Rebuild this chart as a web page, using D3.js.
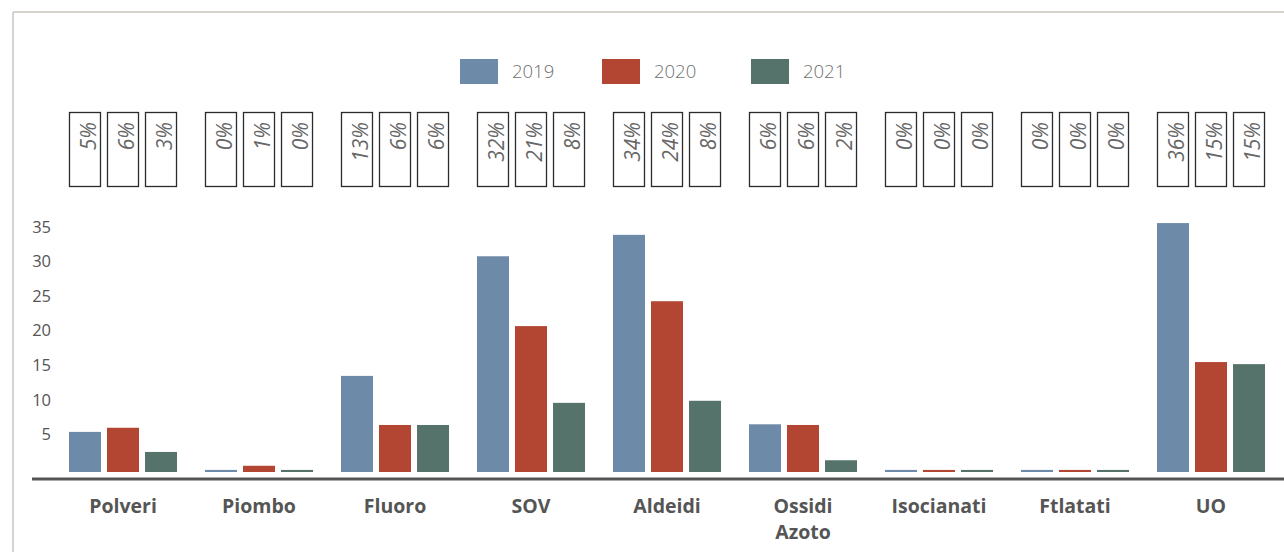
<!DOCTYPE html>
<html>
<head>
<meta charset="utf-8">
<script src="https://cdn.jsdelivr.net/npm/d3@7"></script>
<style>
  body { margin: 0; background: #fff; }
  svg { display: block; }
</style>
</head>
<body>
<div class="chart"></div>
<script>
// categories and series
var categories = ["Polveri", "Piombo", "Fluoro", "SOV", "Aldeidi", "Ossidi Azoto", "Isocianati", "Ftlatati", "UO"];
var years = ["2019", "2020", "2021"];
var values2019 = [5.8, 0.3, 13.9, 31.2, 34.3, 6.9, 0.3, 0.3, 36.0];
var values2020 = [6.4, 0.9, 6.8, 21.1, 24.7, 6.8, 0.3, 0.3, 15.9];
var values2021 = [2.9, 0.3, 6.8, 10.0, 10.3, 1.7, 0.3, 0.3, 15.6];
// percent labels in the boxes above the bars
var pct2019 = ["5%", "0%", "13%", "32%", "34%", "6%", "0%", "0%", "36%"];
var pct2020 = ["6%", "1%", "6%", "21%", "24%", "6%", "0%", "0%", "15%"];
var pct2021 = ["3%", "0%", "6%", "8%", "8%", "2%", "0%", "0%", "15%"];
var yTicks = [5, 10, 15, 20, 25, 30, 35];

var colors = { "2019": "#6d8aa8", "2020": "#b34632", "2021": "#55726b" };
var series = { "2019": values2019, "2020": values2020, "2021": values2021 };
var pcts = { "2019": pct2019, "2020": pct2020, "2021": pct2021 };

var width = 1284, height = 552;

var svg = d3.select(".chart").append("svg")
    .attr("width", width)
    .attr("height", height);

// frame lines (top and left)
svg.append("line")
    .attr("x1", 13).attr("x2", width).attr("y1", 12).attr("y2", 12)
    .style("stroke", "#c9c3bc").style("stroke-width", 1.5);
svg.append("line")
    .attr("x1", 13).attr("x2", 13).attr("y1", 12).attr("y2", height)
    .style("stroke", "#c9c3bc").style("stroke-width", 1.5);

// scales
var x0 = d3.scaleBand()
    .domain(categories)
    .range([55, 55 + 136 * categories.length]);

var x1 = d3.scaleBand()
    .domain(years)
    .range([0, x0.bandwidth()])
    .paddingInner(0.158)
    .paddingOuter(0.368);

var y = d3.scaleLinear()
    .domain([0, 35])
    .range([472, 230]);

// y axis labels only
var yAxis = svg.append("g")
    .attr("transform", "translate(51,0)")
    .call(d3.axisLeft(y).tickValues(yTicks).tickSize(0).tickPadding(0));
yAxis.select(".domain").remove();
yAxis.selectAll("text")
    .attr("dy", "0.32em")
    .attr("y", -3)
    .style("font-family", "'Open Sans', sans-serif")
    .style("font-size", "16.5px")
    .style("fill", "#555");

// bars
var groups = svg.selectAll("g.cat")
    .data(categories)
    .enter().append("g")
    .attr("class", "cat")
    .attr("transform", function (d) { return "translate(" + x0(d) + ",0)"; });

groups.selectAll("rect.bar")
    .data(function (d, i) {
        return years.map(function (yr) { return { year: yr, value: series[yr][i], pct: pcts[yr][i] }; });
    })
    .enter().append("rect")
    .attr("class", "bar")
    .attr("x", function (d) { return x1(d.year); })
    .attr("width", x1.bandwidth())
    .attr("y", function (d) { return y(d.value); })
    .attr("height", function (d) { return y(0) - y(d.value); })
    .style("fill", function (d) { return colors[d.year]; });

// percent boxes
var boxTop = 112, boxH = 74;
var boxes = groups.selectAll("g.pct")
    .data(function (d, i) {
        return years.map(function (yr) { return { year: yr, pct: pcts[yr][i] }; });
    })
    .enter().append("g")
    .attr("class", "pct")
    .attr("transform", function (d) { return "translate(" + x1(d.year) + "," + boxTop + ")"; });

boxes.append("rect")
    .attr("x", 0.5).attr("y", 0.5)
    .attr("width", x1.bandwidth() - 1)
    .attr("height", boxH)
    .style("fill", "#fff")
    .style("stroke", "#2b2b2b")
    .style("stroke-width", 1.3);

boxes.append("text")
    .attr("transform", "translate(27,10) rotate(-90)")
    .attr("text-anchor", "end")
    .style("font-family", "'Open Sans', sans-serif")
    .style("font-style", "italic")
    .style("font-size", "21px")
    .style("fill", "#666")
    .text(function (d) { return d.pct; });

// x axis line
svg.append("line")
    .attr("x1", 32).attr("x2", width).attr("y1", 479).attr("y2", 479)
    .style("stroke", "#555").style("stroke-width", 3);

// category labels (wrapped on spaces)
groups.append("text")
    .attr("text-anchor", "middle")
    .attr("x", x0.bandwidth() / 2)
    .attr("y", 513)
    .style("font-family", "'Open Sans', sans-serif")
    .style("font-weight", 700)
    .style("font-size", "19.5px")
    .style("fill", "#555")
    .each(function (d) {
        var words = d.split(" ");
        var t = d3.select(this);
        words.forEach(function (w, k) {
            t.append("tspan")
                .attr("x", x0.bandwidth() / 2)
                .attr("dy", k === 0 ? 0 : 26)
                .text(w);
        });
    });

// legend
var legendX = [460, 602, 751];
var legend = svg.selectAll("g.legend")
    .data(years)
    .enter().append("g")
    .attr("class", "legend")
    .attr("transform", function (d, i) { return "translate(" + legendX[i] + ",59)"; });

legend.append("rect")
    .attr("width", 38).attr("height", 25)
    .style("fill", function (d) { return colors[d]; });

legend.append("text")
    .attr("x", 52).attr("y", 12.5)
    .attr("dy", "0.35em")
    .style("font-family", "'Open Sans', sans-serif")
    .style("font-weight", 300)
    .style("font-size", "18.5px")
    .style("fill", "#707070")
    .text(function (d) { return d; });
</script>
</body>
</html>
